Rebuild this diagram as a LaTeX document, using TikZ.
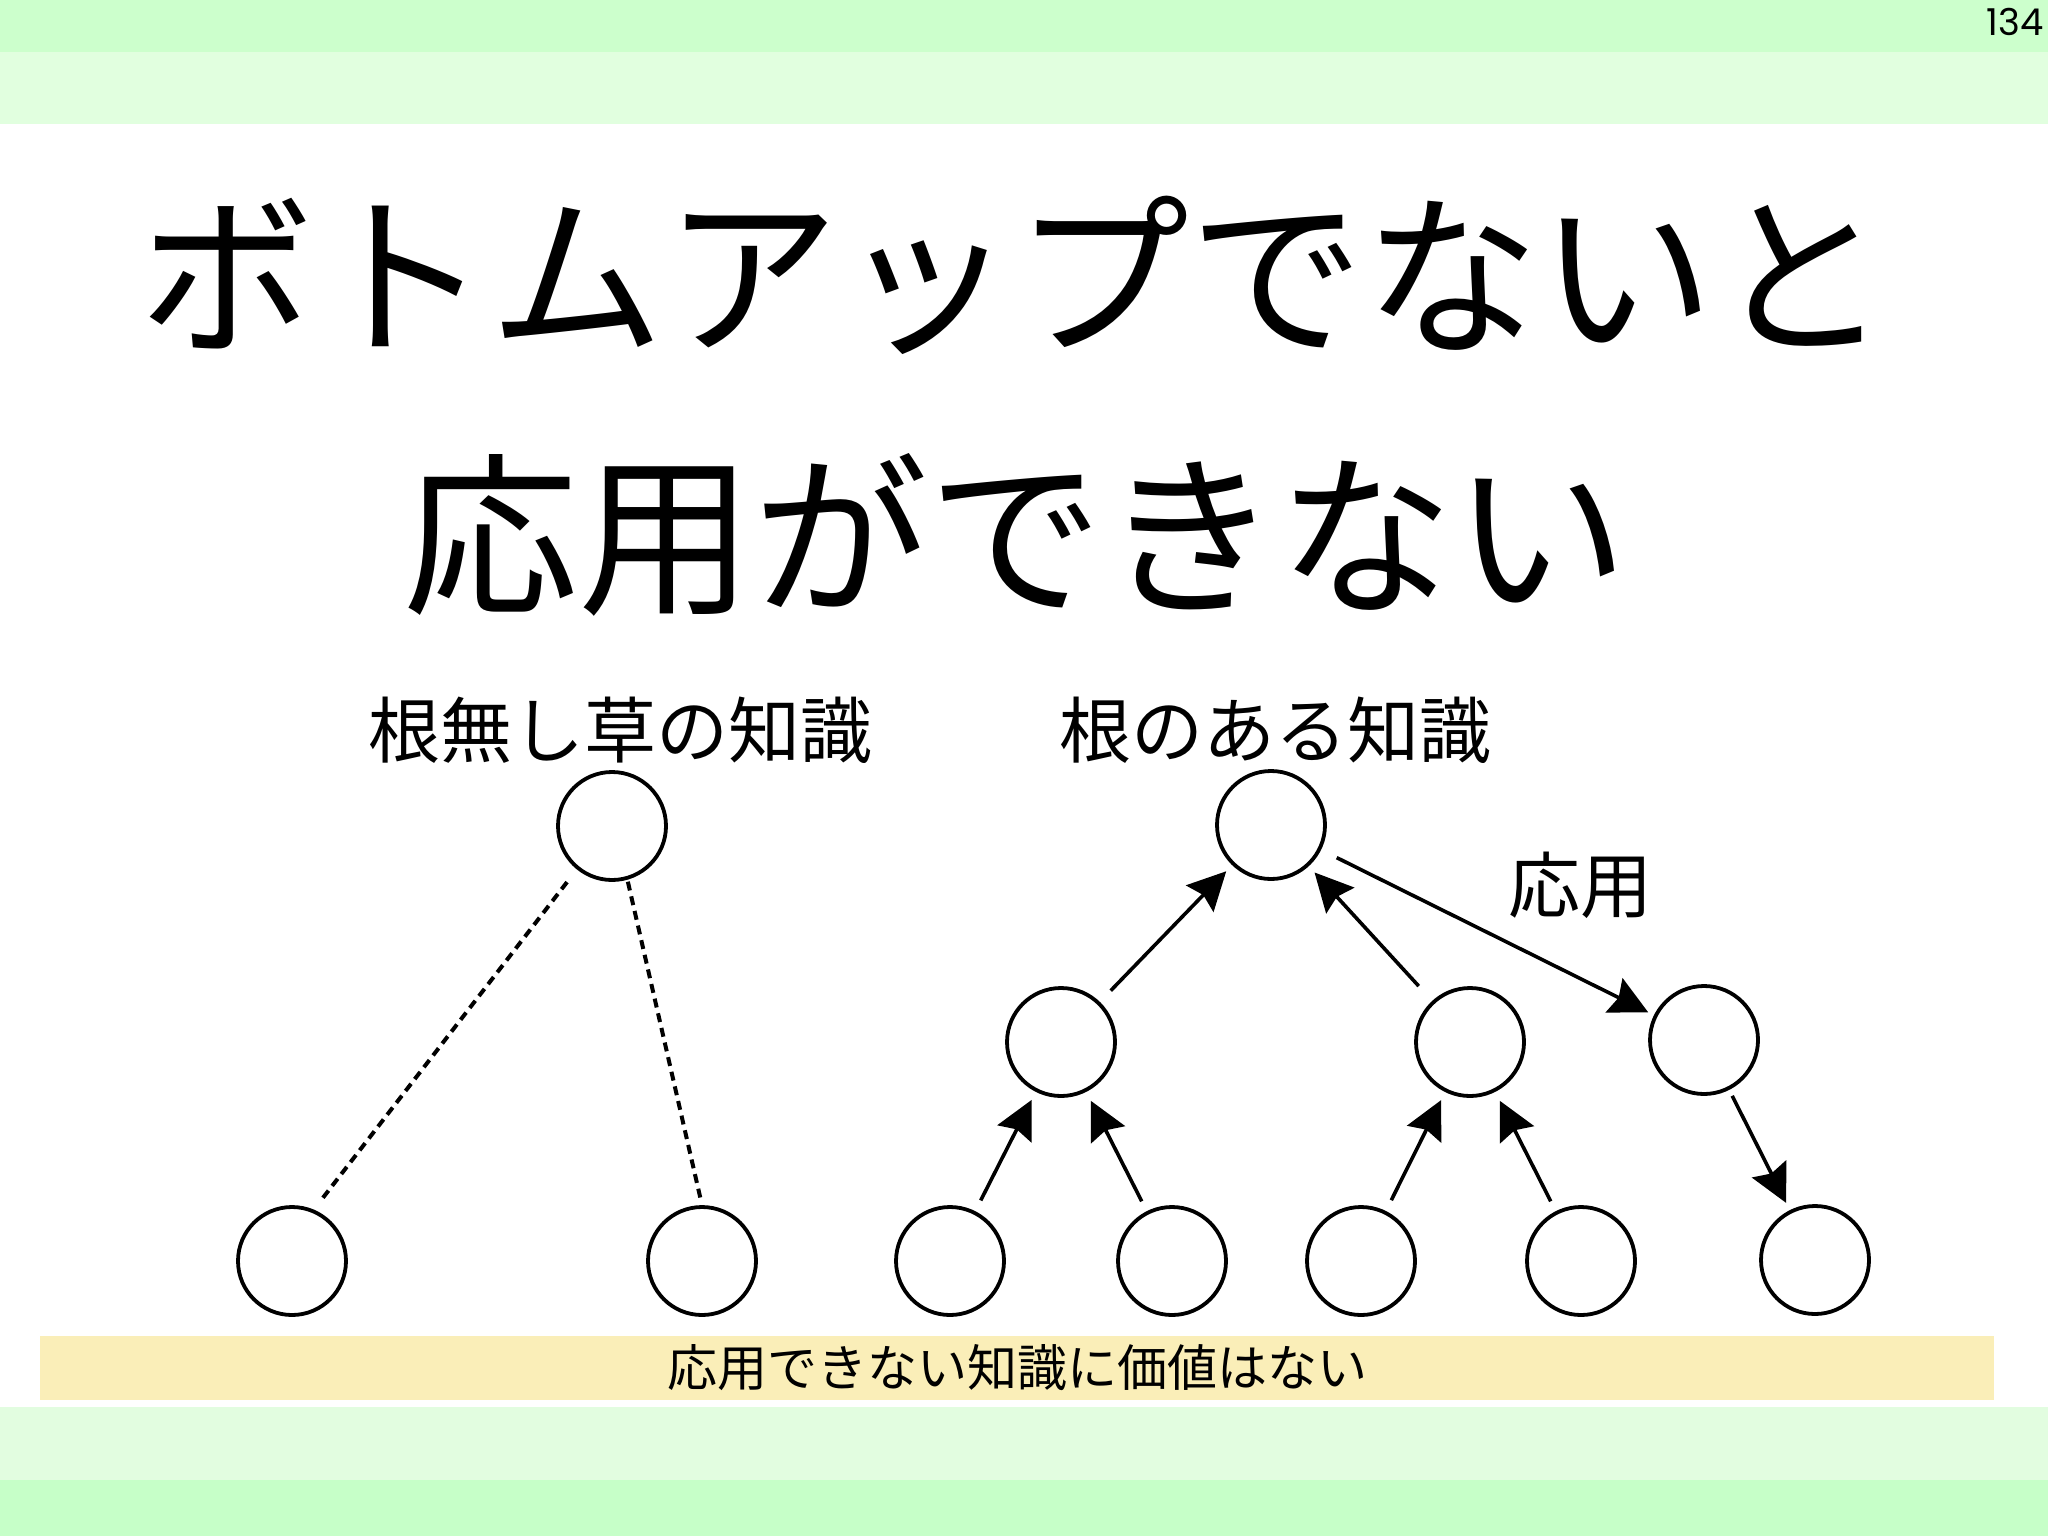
\documentclass[tikz,border=0pt]{standalone}
\usepackage{fontspec}
\setmainfont{Noto Sans CJK JP}
\newfontfamily\numfont{Poppins}
\usetikzlibrary{arrows.meta}
\definecolor{gdark}{HTML}{CCFFCC}
\definecolor{glight}{HTML}{E1FFDF}
\definecolor{gdarkb}{HTML}{C6FFC8}
\definecolor{glightb}{HTML}{E2FDE0}
\definecolor{ybox}{HTML}{FAEEB8}
\tikzset{
  knode/.style={circle, draw=black, line width=1.9pt, minimum size=54pt, inner sep=0pt},
  conn/.style={line width=1.8pt, -{Stealth[length=19pt,width=19pt,inset=2.5pt]}},
  dashline/.style={line width=2pt, dash pattern=on 4.5pt off 3pt},
  titletext/.style={anchor=base, font=\fontsize{87.5}{87.5}\selectfont},
  subtext/.style={anchor=base, font=\fontsize{36}{36}\selectfont},
}
\begin{document}
\begin{tikzpicture}[x=0.5pt,y=-0.5pt]
\useasboundingbox (0,0) rectangle (2048,1536);
\fill[white] (0,0) rectangle (2048,1536);
% bars
\fill[gdark] (0,0) rectangle (2048,52);
\fill[glight] (0,52) rectangle (2048,124);
\fill[glightb] (0,1407) rectangle (2048,1480);
\fill[gdarkb] (0,1480) rectangle (2048,1536);
\node[anchor=base east, font=\numfont\fontsize{18.5}{18.5}\selectfont, inner sep=0pt] (pnum) at (2044,36) {134};
% title
\node[titletext] (title1) at (1014,341) {ボトムアップでないと};
\node[titletext] (title2) at (1016,601) {応用ができない};
% subtitles
\node[subtext] (subL) at (620,757) {根無し草の知識};
\node[subtext] (subR) at (1275,757) {根のある知識};
\node[subtext] (app) at (1580,912) {応用};
% left tree
\node[knode] (LR) at (612,826) {};
\node[knode] (L1) at (292,1261) {};
\node[knode] (L2) at (702,1261) {};
\draw[dashline, shorten <=8pt, shorten >=5.5pt] (LR.231) -- (L1.67);
\draw[dashline, shorten <=1pt, shorten >=2pt] (LR.286) -- (L2.90);
% right tree
\node[knode] (R) at (1271,825) {};
\node[knode] (M1) at (1061,1042) {};
\node[knode] (M2) at (1470,1042) {};
\node[knode] (M3) at (1704,1040) {};
\node[knode] (B1) at (950,1261) {};
\node[knode] (B2) at (1172,1261) {};
\node[knode] (B3) at (1361,1261) {};
\node[knode] (B4) at (1581,1261) {};
\node[knode] (B5) at (1815,1260) {};
\draw[conn, shorten <=6pt, shorten >=4.5pt] (B1) -- (M1);
\draw[conn, shorten <=5.5pt, shorten >=5pt] (B2) -- (M1);
\draw[conn, shorten <=6pt, shorten >=4.5pt] (B3) -- (M2);
\draw[conn, shorten <=5.5pt, shorten >=5pt] (B4) -- (M2);
\draw[conn, shorten <=7.8pt, shorten >=4.25pt] (M1) -- (R);
\draw[conn, shorten <=10pt, shorten >=4.25pt] (M2) -- (R);
\draw[conn, shorten <=8.75pt, shorten >=3.2pt] (R) -- (M3);
\draw[conn, shorten <=3.3pt, shorten >=4pt] (M3) -- (B5);
% bottom message
\node[fill=ybox, minimum width=977pt, minimum height=32pt, inner sep=0pt, font=\fontsize{25}{25}\selectfont] (msg) at (1017,1368) {応用できない知識に価値はない};
\end{tikzpicture}
\end{document}
